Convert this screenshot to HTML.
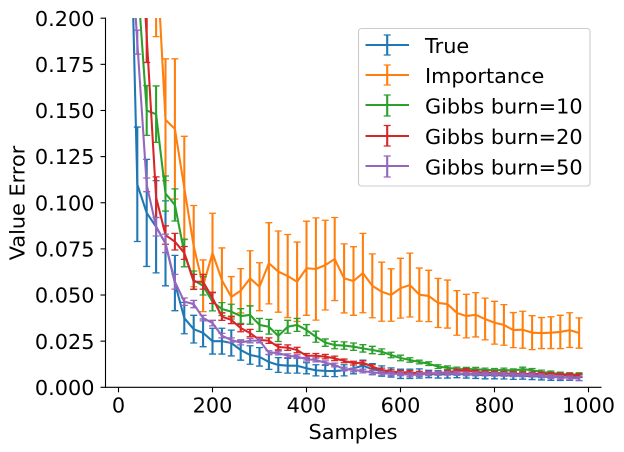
<!DOCTYPE html>
<html>
<head>
<meta charset="utf-8">
<title>Value Error vs Samples</title>
<style>
html,body{margin:0;padding:0;background:#fff;}
svg{display:block;}
text{font-family:"DejaVu Sans","Liberation Sans",sans-serif;font-size:20.83px;fill:#000;}
</style>
</head>
<body>
<svg id="chart" width="624" height="452" viewBox="0 0 624 452" xmlns="http://www.w3.org/2000/svg">
  <defs><clipPath id="plot-clip"><rect x="105.5" y="18" width="496" height="369.3"></rect></clipPath></defs>
  <g id="series-layer" clip-path="url(#plot-clip)"></g>
  <g id="axes-layer"></g>
  <text x="353" y="439" text-anchor="middle">Samples</text>
  <text x="0" y="0" text-anchor="middle" transform="translate(24.5 203) rotate(-90)">Value Error</text>
  <g>
    <rect x="358.5" y="28.5" width="231.5" height="157.5" rx="3" fill="#fff" stroke="#cccccc" stroke-width="1.1"></rect>
    <g stroke="#1f77b4">
      <path d="M365.5 45H409M387.2 35V55" stroke-width="2.1" fill="none"></path><path d="M383.7 35H390.7M383.7 55H390.7" stroke-width="1.2" fill="none"></path>
      <text x="425" y="53" stroke="none">True</text>
    </g>
    <g stroke="#ff7f0e">
      <path d="M365.5 75H409M387.2 65V85" stroke-width="2.1" fill="none"></path><path d="M383.7 65H390.7M383.7 85H390.7" stroke-width="1.2" fill="none"></path>
      <text x="425" y="83" stroke="none">Importance</text>
    </g>
    <g stroke="#2ca02c">
      <path d="M365.5 105H409M387.2 95V116" stroke-width="2.1" fill="none"></path><path d="M383.7 95H390.7M383.7 116H390.7" stroke-width="1.2" fill="none"></path>
      <text x="425" y="113.500" stroke="none">Gibbs burn=10</text>
    </g>
    <g stroke="#d62728">
      <path d="M365.5 136H409M387.2 125.500V146" stroke-width="2.1" fill="none"></path><path d="M383.7 125.500H390.7M383.7 146H390.7" stroke-width="1.2" fill="none"></path>
      <text x="425" y="144" stroke="none">Gibbs burn=20</text>
    </g>
    <g stroke="#9467bd">
      <path d="M365.5 166H409M387.2 156V177" stroke-width="2.1" fill="none"></path><path d="M383.7 156H390.7M383.7 177H390.7" stroke-width="1.2" fill="none"></path>
      <text x="425" y="174.500" stroke="none">Gibbs burn=50</text>
    </g>
  </g>
</svg>
<script>
const samples = [20,40,60,80,100,120,140,160,180,200,
  220,240,260,280,300,320,340,360,380,400,
  420,440,460,480,500,520,540,560,580,600,
  620,640,660,680,700,720,740,760,780,800,
  820,840,860,880,900,920,940,960,980];

const trueValues = [.32,.110,.0945,.087,.078,.0565,.0375,.0315,.0295,.025,
  .025,.024,.0202,.0175,.0165,.0137,.0121,.0117,.0117,.0103,
  .0092,.0089,.0088,.0092,.0103,.0117,.0098,.0088,.008,.0073,
  .0073,.0075,.0072,.007,.007,.0072,.007,.0068,.0066,.0066,
  .0065,.0063,.0062,.006,.0058,.0056,.0055,.0054,.0052];
const trueErrors = [.03,.031,.029,.025,.023,.015,.0085,.0075,.0075,.007,
  .007,.007,.0055,.005,.005,.004,.004,.004,.004,.003,
  .003,.003,.003,.003,.003,.003,.003,.0028,.0025,.0025,
  .0025,.0025,.002,.002,.002,.002,.002,.002,.002,.002,
  .002,.002,.0018,.0018,.0018,.0018,.0018,.0016,.0016];

const importanceValues = [.5,.4,.32,.24,.145,.14,.108,.0765,.055,.0728,
  .058,.049,.0523,.059,.0545,.0672,.0627,.0603,.0572,.0645,
  .0641,.0662,.0695,.059,.0576,.0619,.055,.0518,.05,.0537,
  .0554,.0502,.0495,.0457,.0451,.0403,.0386,.0393,.037,.035,
  .0338,.031,.0312,.0296,.0294,.0296,.03,.031,.0294];
const importanceErrors = [.06,.05,.05,.05,.033,.038,.028,.022,.014,.0215,
  .0175,.011,.012,.015,.013,.022,.022,.0225,.0215,.0255,
  .0277,.0243,.0225,.0187,.0186,.0215,.0173,.016,.0142,.0162,
  .0173,.0144,.0139,.0133,.013,.0121,.0118,.012,.0113,.0116,
  .011,.0095,.01,.0092,.0084,.0086,.009,.0094,.0082];

const gibbs10Values = [.35,.223,.15,.148,.105,.0988,.0728,.058,.055,.0464,
  .0424,.041,.0386,.0392,.0338,.0328,.0278,.0328,.0338,.031,
  .0274,.0242,.0229,.0226,.022,.0211,.0202,.0193,.0175,.0159,
  .0148,.0137,.0128,.0112,.0106,.0099,.0098,.0098,.0094,.0092,
  .0094,.009,.0099,.0092,.0083,.0078,.0072,.0069,.0069];
const gibbs10Errors = [.03,.02,.0135,.0153,.0095,.0087,.0075,.005,.005,.005,
  .0035,.004,.004,.005,.0035,.004,.003,.0035,.0035,.003,
  .003,.002,.002,.002,.002,.002,.002,.0015,.0015,.0015,
  .0012,.001,.001,.001,.001,.001,.001,.001,.001,.001,
  .001,.001,.001,.001,.001,.001,.001,.001,.001];

const gibbs20Values = [.33,.28,.19,.103,.0825,.0789,.0728,.0572,.0572,.0484,
  .0383,.0365,.0321,.0294,.0256,.0253,.0218,.0215,.0202,.0171,
  .0171,.0166,.0157,.0143,.0131,.0133,.0112,.0094,.0085,.0082,
  .008,.0076,.0076,.0076,.0082,.0088,.0092,.0082,.0079,.0077,
  .0075,.0074,.0072,.0072,.0072,.007,.0067,.0067,.0063];
const gibbs20Errors = [.03,.03,.014,.011,.005,.0045,.0035,.004,.004,.003,
  .002,.002,.002,.002,.0015,.0015,.0015,.0015,.0015,.0012,
  .0012,.0012,.0012,.001,.001,.001,.001,.001,.001,.001,
  .001,.001,.001,.001,.001,.001,.001,.001,.001,.001,
  .001,.001,.001,.001,.001,.001,.001,.001,.001];

const gibbs50Values = [.267,.187,.1097,.087,.078,.0572,.0464,.0451,.0375,.0348,
  .028,.0256,.0242,.0253,.0253,.0188,.0186,.0171,.0166,.0152,
  .0148,.0133,.0121,.0099,.0094,.0088,.0081,.0076,.0073,.0073,
  .0067,.0069,.0073,.0076,.0076,.0075,.0073,.0072,.0072,.0071,
  .007,.0068,.0067,.0066,.0062,.0058,.0054,.0051,.0047];
const gibbs50Errors = [.03,.0065,.0037,.005,.005,.004,.002,.002,.0015,.0015,
  .0012,.0012,.0012,.0012,.0012,.001,.001,.001,.001,.001,
  .001,.001,.001,.001,.001,.001,.001,.001,.001,.001,
  .001,.001,.001,.001,.001,.001,.001,.001,.001,.001,
  .001,.001,.001,.001,.001,.001,.001,.001,.001];

const xTicks = [0,200,400,600,800,1000];
const yTicks = [0,0.025,0.05,0.075,0.1,0.125,0.15,0.175,0.2];
const yTickLabels = ["0.000","0.025","0.050","0.075","0.100","0.125","0.150","0.175","0.200"];

const NS = 'http://www.w3.org/2000/svg';
const X0 = 118.5, XK = 0.47, Y0 = 387.3, YK = 1845.5;
function xScale(v){ return X0 + XK * v; }
function yScale(v){ return Y0 - YK * v; }

function strokePath(parent, d, color, width){
  const p = document.createElementNS(NS, 'path');
  p.setAttribute('d', d);
  p.setAttribute('fill', 'none');
  p.setAttribute('stroke', color);
  p.setAttribute('stroke-width', width);
  parent.appendChild(p);
  return p;
}

function drawSeries(name, values, errors, color){
  const layer = document.getElementById('series-layer');
  const g = document.createElementNS(NS, 'g');
  
  
  layer.appendChild(g);

  let lineD = '';
  let barD = '';
  let capD = '';
  for (let i = 0; i < samples.length; i++) {
    const x = xScale(samples[i]);
    const y = yScale(values[i]);
    const top = yScale(values[i] + errors[i]);
    const bottom = yScale(values[i] - errors[i]);
    lineD += (i ? 'L' : 'M') + x.toFixed(2) + ' ' + y.toFixed(2);
    barD += 'M' + x.toFixed(2) + ' ' + top.toFixed(2) + 'V' + bottom.toFixed(2);
    capD += 'M' + (x - 3.5).toFixed(2) + ' ' + top.toFixed(2) + 'H' + (x + 3.5).toFixed(2);
    capD += 'M' + (x - 3.5).toFixed(2) + ' ' + bottom.toFixed(2) + 'H' + (x + 3.5).toFixed(2);
  }
  const line = strokePath(g, lineD, color, 2.08);
  
  
  line.setAttribute('stroke-linejoin', 'round');
  const bars = strokePath(g, barD, color, 2.08);
  
  
  const caps = strokePath(g, capD, color, 1.3);
  
  
}

function drawAxes(){
  const axes = document.getElementById('axes-layer');
  const spines = strokePath(axes, 'M105.5 17.5V387.3H601.5', '#000', 1.1);
  
  
  xTicks.forEach(function(v){
    const x = xScale(v);
    const t = strokePath(axes, 'M' + x.toFixed(2) + ' 387.3V392.3', '#000', 1.1);
    
    
    const label = document.createElementNS(NS, 'text');
    label.setAttribute('x', x.toFixed(2));
    label.setAttribute('y', '412.5');
    label.setAttribute('text-anchor', 'middle');
    
    
    label.textContent = String(v);
    axes.appendChild(label);
  });
  yTicks.forEach(function(v, i){
    const y = yScale(v);
    const t = strokePath(axes, 'M100.5 ' + y.toFixed(2) + 'H105.5', '#000', 1.1);
    
    
    const label = document.createElementNS(NS, 'text');
    label.setAttribute('x', '94.5');
    label.setAttribute('y', (y + 7.6).toFixed(2));
    label.setAttribute('text-anchor', 'end');
    
    
    label.textContent = yTickLabels[i];
    axes.appendChild(label);
  });
}

drawSeries('series-true', trueValues, trueErrors, '#1f77b4');
drawSeries('series-importance', importanceValues, importanceErrors, '#ff7f0e');
drawSeries('series-gibbs-burn-10', gibbs10Values, gibbs10Errors, '#2ca02c');
drawSeries('series-gibbs-burn-20', gibbs20Values, gibbs20Errors, '#d62728');
drawSeries('series-gibbs-burn-50', gibbs50Values, gibbs50Errors, '#9467bd');
drawAxes();
</script>
</body>
</html>
